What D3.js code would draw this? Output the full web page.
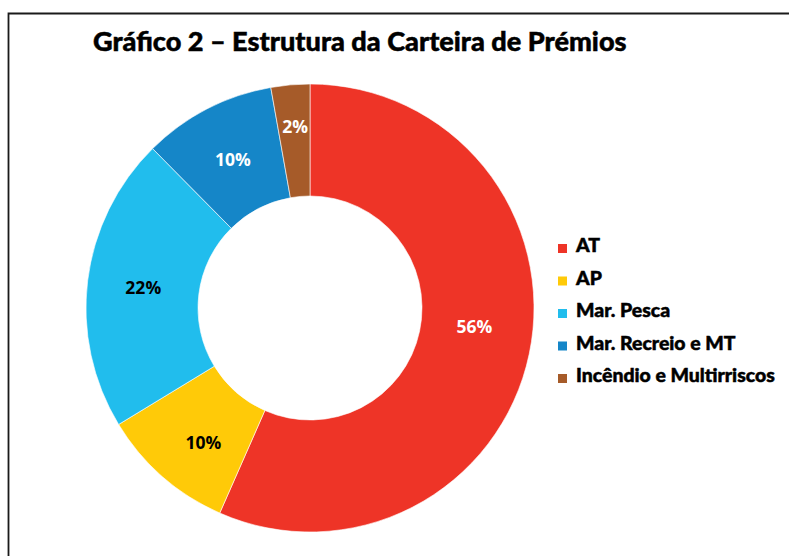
<!DOCTYPE html>
<html>
<head>
<meta charset="utf-8">
<script src="https://cdn.jsdelivr.net/npm/d3@7"></script>
<style>
  html, body { margin: 0; padding: 0; background: #fff; }
  svg { display: block; }
  text { font-family: "Open Sans", "Noto Sans", sans-serif; font-weight: 700; }
  .heavy { font-family: Lato, "Open Sans", sans-serif; font-weight: 900; stroke: #000; stroke-width: 0.5px; }
</style>
</head>
<body>
<div id="chart"></div>
<script>
// Chart data (shares; labels as printed)
const categories = ['AT', 'AP', 'Mar. Pesca', 'Mar. Recreio e MT', 'Incêndio e Multirriscos'];
const shares = [56.6, 9.7, 21.3, 9.6, 2.8];
const pctLabels = ['56%', '10%', '22%', '10%', '2%'];
const colors = ['#EE3427', '#FFCA08', '#21BDED', '#1586C8', '#A65B29'];
const labelColors = ['#fff', '#000', '#000', '#fff', '#fff'];

const title = 'Gráfico 2 – Estrutura da Carteira de Prémios';

const width = 789, height = 556;
const cx = 310, cy = 308;
const outerR = 224, innerR = 112;

// manual nudges for a couple of labels, as in the original
const labelNudge = { 'AT': [0, -17], 'AP': [4, 8], 'Incêndio e Multirriscos': [0, -15] };

const data = categories.map((c, i) => ({
    name: c, value: shares[i], label: pctLabels[i], color: colors[i], textColor: labelColors[i]
}));

const svg = d3.select('#chart')
    .append('svg')
    .attr('width', width)
    .attr('height', height);

// frame (only top and left edges fall inside the crop)
svg.append('path')
    .attr('d', `M8.5,${height + 5} V13.5 H${width + 5}`)
    .attr('fill', 'none')
    .attr('stroke', '#1a1a1a')
    .attr('stroke-width', 1.8);

// title, fitted to its width in the original
const titleText = svg.append('text')
    .attr('class', 'heavy')
    .attr('x', 93)
    .attr('y', 51)
    .attr('font-size', 21)
    .attr('fill', '#000')
    .text(title);
const tw = titleText.node().getComputedTextLength();
titleText.attr('font-size', 21 * 534 / tw);

const pie = d3.pie()
    .value(d => d.value)
    .sort(null);

const arc = d3.arc()
    .innerRadius(innerR)
    .outerRadius(outerR);

const labelArc = d3.arc()
    .innerRadius((innerR + outerR) / 2)
    .outerRadius((innerR + outerR) / 2);

const g = svg.append('g')
    .attr('transform', `translate(${cx},${cy})`);

const slices = g.selectAll('g.slice')
    .data(pie(data))
    .join('g')
    .attr('class', 'slice');

slices.append('path')
    .attr('d', arc)
    .attr('fill', d => d.data.color)
    .attr('stroke', '#fff')
    .attr('stroke-width', 0.6);

slices.append('text')
    .attr('transform', d => {
        const [x, y] = labelArc.centroid(d);
        const n = labelNudge[d.data.name] || [0, 0];
        return `translate(${x + n[0]},${y + n[1]})`;
    })
    .attr('text-anchor', 'middle')
    .attr('dominant-baseline', 'central')
    .attr('font-size', 17.5)
    .attr('font-weight', 600)
    .attr('fill', d => d.data.textColor)
    .text(d => d.data.label);

// legend
const legendX = 558, legendY = 252, legendStep = 32.5;
const legend = svg.append('g')
    .selectAll('g')
    .data(data)
    .join('g')
    .attr('transform', (d, i) => `translate(${legendX},${legendY + i * legendStep})`);

legend.append('rect')
    .attr('x', 0)
    .attr('y', -8)
    .attr('width', 9)
    .attr('height', 9)
    .attr('fill', d => d.color);

const legendText = legend.append('text')
    .attr('class', 'heavy')
    .attr('x', 18)
    .attr('y', 0)
    .attr('font-size', 16)
    .attr('fill', '#000')
    .text(d => d.name);

// scale legend font so the longest entry matches the original width
const longest = legendText.nodes()[4].getComputedTextLength();
legendText.attr('font-size', 16 * 199 / longest);
</script>
</body>
</html>
